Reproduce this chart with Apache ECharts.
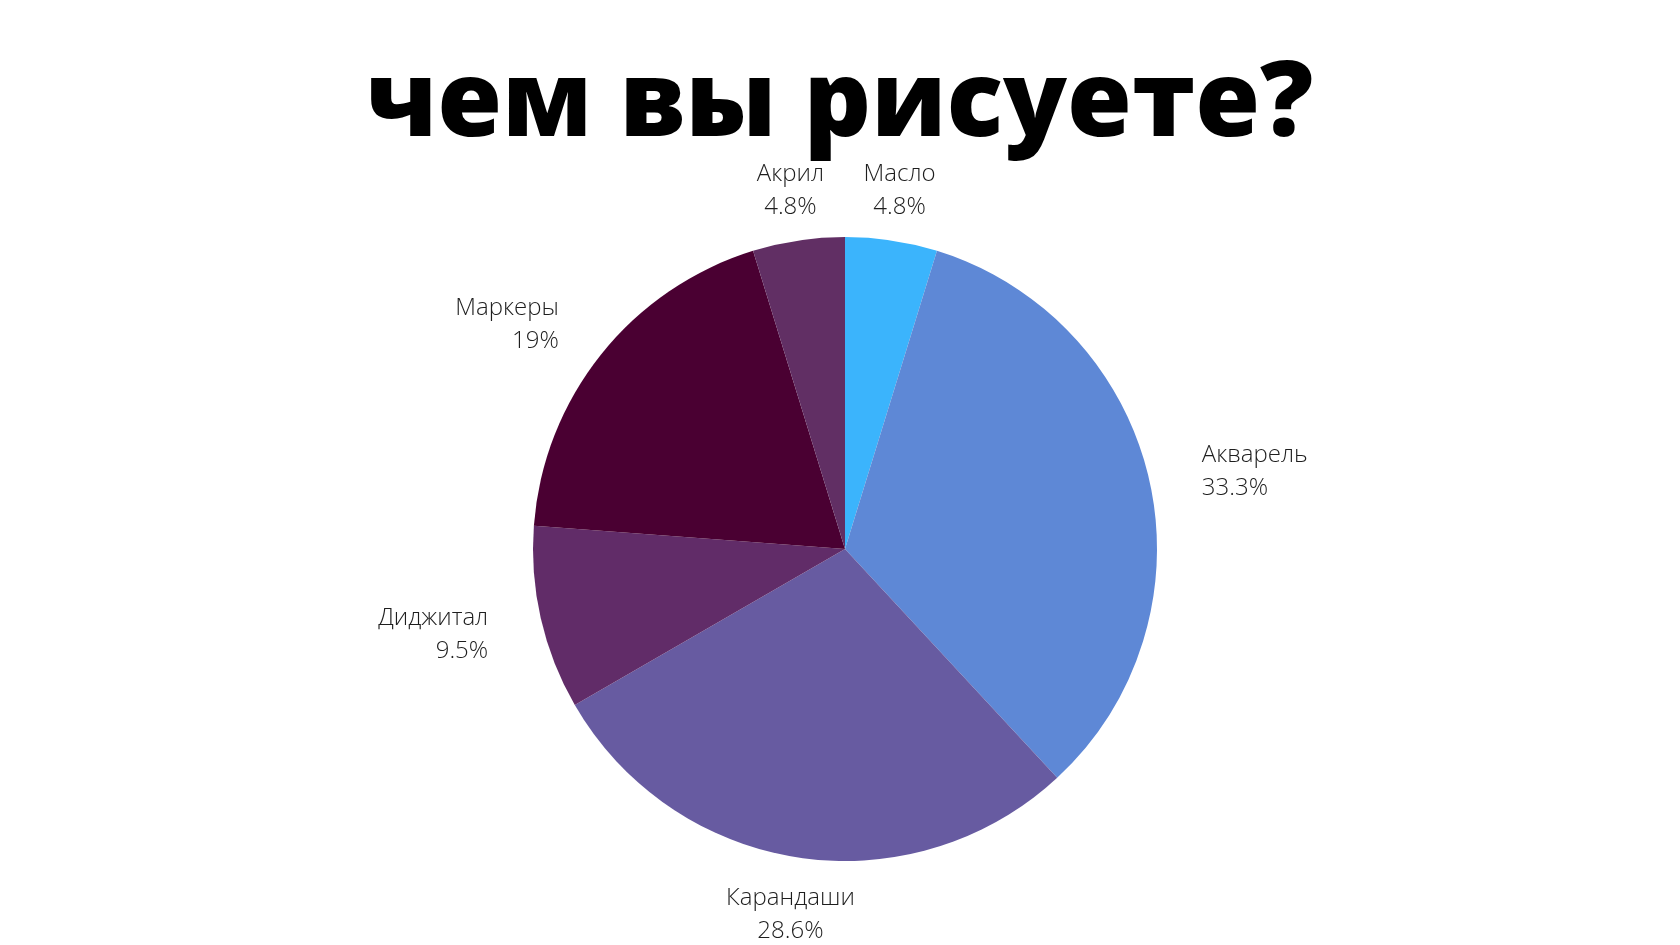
<!DOCTYPE html>
<html>
<head>
<meta charset="utf-8">
<script src="https://cdn.jsdelivr.net/npm/echarts@6/dist/echarts.min.js"></script>
<style>
html,body{margin:0;padding:0;background:#fff;}
#c{width:1680px;height:945px;}
</style>
</head>
<body>
<div id="c"></div>
<script>
const titleText = 'чем вы рисуете?';
const categories = ['Масло', 'Акварель', 'Карандаши', 'Диджитал', 'Маркеры', 'Акрил'];
const values = [1, 7, 6, 2, 4, 1];
const colors = ['#3BB4FC', '#5E88D6', '#675BA1', '#612C68', '#4A0032', '#612F64'];

const chart = echarts.init(document.getElementById('c'), null, {renderer: 'canvas'});
const CX = 845, CY = 549, R = 312, LABEL_R = 366, LABEL_DY = 4;
const total = values.reduce((a, b) => a + b, 0);
function midAngle(i) {
  let before = 0;
  for (let k = 0; k < i; k++) before += values[k];
  return (before + values[i] / 2) / total * Math.PI * 2; // clockwise from top
}

chart.setOption({
  backgroundColor: '#ffffff',
  title: {
    text: titleText,
    left: 'center',
    top: 40,
    textStyle: {
      fontFamily: '"Open Sans"',
      fontWeight: 800,
      fontSize: 105,
      color: '#000000',
      lineHeight: 122
    }
  },
  series: [{
    type: 'pie',
    center: [CX, CY],
    radius: [0, R],
    startAngle: 90,
    clockwise: true,
    percentPrecision: 1,
    animation: false,
    data: categories.map((n, i) => ({name: n, value: values[i], itemStyle: {color: colors[i]}})),
    itemStyle: {borderWidth: 0},
    label: {
      show: true,
      position: 'outside',
      formatter: p => p.name + '\n' + p.percent + '%',
      fontFamily: '"Open Sans"',
      fontWeight: 300,
      fontSize: 24,
      lineHeight: 33,
      color: '#1e1e1e'
    },
    labelLine: {show: false},
    emphasis: {disabled: true},
    labelLayout: function (params) {
      const a = midAngle(params.dataIndex);
      const s = Math.sin(a), c = Math.cos(a);
      const x = CX + LABEL_R * s;
      const y = CY - LABEL_R * c + LABEL_DY;
      let align = 'center';
      if (s > 0.5) align = 'left';
      else if (s < -0.5) align = 'right';
      return {x: x, y: y, align: align, verticalAlign: 'middle'};
    }
  }]
});
</script>
</body>
</html>
